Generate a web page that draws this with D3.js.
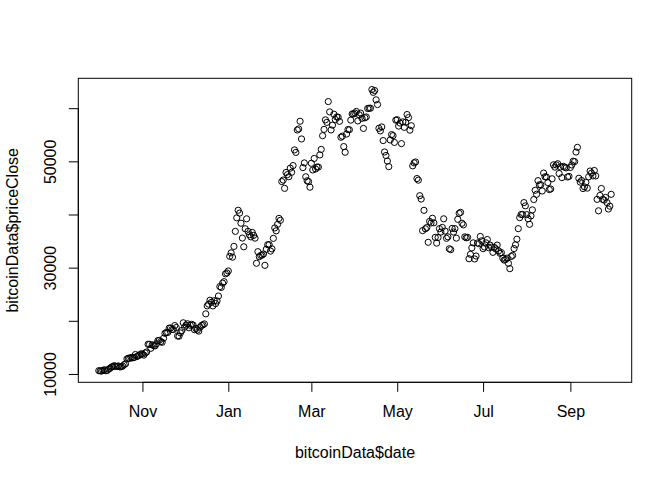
<!DOCTYPE html>
<html>
<head>
<meta charset="utf-8">
<script src="https://cdn.jsdelivr.net/npm/d3@7"></script>
<style>
  body { margin: 0; background: #fff; }
  svg { display: block; font-family: "Liberation Sans", Arial, sans-serif; }
</style>
</head>
<body>
<svg id="chart"></svg>
<script>
// daily closing price, 1 Oct 2020 .. 30 Sep 2021
const startDate = new Date(2020, 9, 1);

const oct20 = [10619, 10575, 10549, 10669, 10793, 10604, 10669, 10915, 11065, 11296, 11384, 11555, 11426, 11430, 11505, 11323, 11358, 11484, 11742, 11916, 12823, 12965, 12931, 13108, 13031, 13075, 13654, 13271, 13437, 13546, 13781];
const nov20 = [13737, 13550, 13950, 14133, 15579, 15565, 14833, 15479, 15332, 15290, 15701, 16276, 16318, 16068, 15955, 16716, 17645, 17804, 17817, 18621, 18642, 18370, 18364, 19107, 18732, 17150, 17108, 17718, 18177, 19625];
const dec20 = [18802, 19201, 19445, 18699, 19154, 19345, 19191, 18321, 18553, 18264, 18058, 18803, 19142, 19246, 19417, 21310, 22805, 23137, 23869, 23477, 22803, 23783, 23241, 23735, 24665, 26437, 26272, 27084, 27362, 28841, 29001];
const jan21 = [29374, 32127, 32782, 31971, 33992, 36824, 39371, 40797, 40254, 38356, 35566, 33922, 37316, 39187, 36825, 36178, 35791, 36630, 36069, 35547, 30825, 33005, 32067, 32289, 32366, 32569, 30432, 33466, 34316, 34318, 33114];
const feb21 = [33538, 35510, 37473, 36926, 38144, 39266, 38903, 46196, 46481, 44918, 47909, 47504, 47105, 48717, 47945, 49199, 52149, 51679, 55888, 56099, 57539, 54207, 48824, 49705, 47093, 46339, 46188, 45137];
const mar21 = [49631, 48378, 50538, 48561, 48927, 48912, 51206, 52246, 54824, 56008, 57805, 57332, 61243, 59302, 55907, 56804, 58870, 57858, 58346, 58313, 57523, 54529, 54738, 52775, 51705, 55137, 55974, 55948, 57750, 58918, 58918];
const apr21 = [59095, 59384, 57603, 58758, 59057, 58093, 56191, 58186, 58346, 59938, 59994, 59995, 63503, 62978, 63314, 61572, 60684, 56216, 55724, 56474, 53906, 51762, 51093, 50050, 49004, 54021, 55034, 54824, 53555, 57750];
const may21 = [57828, 56631, 57200, 53333, 57424, 56396, 57356, 58803, 58232, 55860, 56704, 49150, 49716, 49880, 46760, 46457, 43538, 42909, 36964, 40784, 37304, 37536, 34770, 38705, 38402, 39294, 38436, 35697, 34616, 35678, 37333];
const jun21 = [36693, 37568, 39188, 36885, 35520, 35796, 33552, 33380, 37389, 36702, 37335, 35553, 39097, 40218, 40406, 38348, 38053, 35787, 35615, 35698, 31676, 32505, 33723, 34663, 31637, 32186, 34650, 34496, 35868, 35041];
const jul21 = [33572, 33897, 34668, 35287, 33747, 34235, 33855, 32877, 33798, 33520, 34240, 33155, 32702, 32822, 31780, 31421, 31533, 31797, 30817, 29807, 32110, 32313, 33581, 34292, 35350, 37337, 39406, 39995, 40008, 42235, 41626];
const aug21 = [39974, 39201, 38152, 39747, 40869, 42816, 44555, 43798, 46365, 45585, 45593, 44428, 47793, 47096, 47047, 46004, 44695, 44802, 46717, 49339, 48906, 49321, 49546, 47706, 48960, 46942, 49058, 48897, 48767, 47054, 47167];
const sep21 = [48847, 49327, 50025, 49944, 51753, 52633, 46811, 46091, 46391, 44883, 45201, 46063, 44963, 47092, 48176, 47783, 47267, 48278, 47260, 42844, 40693, 43574, 44895, 42840, 42716, 43208, 42235, 41034, 41564, 43790];

const yTicks = [10000, 20000, 30000, 40000, 50000, 60000];
const yTickLabels = ["10000", "", "30000", "", "50000", ""];
const xTicks = [new Date(2020, 10, 1), new Date(2021, 0, 1), new Date(2021, 2, 1),
                new Date(2021, 4, 1), new Date(2021, 6, 1), new Date(2021, 8, 1)];
const xTickLabels = ["Nov", "Jan", "Mar", "May", "Jul", "Sep"];

const priceClose = [].concat(oct20, nov20, dec20, jan21, feb21, mar21, apr21, may21, jun21, jul21, aug21, sep21);
const data = priceClose.map((p, i) => ({ date: d3.timeDay.offset(startDate, i), price: p }));

const width = 672, height = 480;
const plotL = 78.3, plotR = 631.7, plotT = 78.3, plotB = 382.3;
const fontSize = '16px';

const svg = d3.select('#chart')
  .attr('width', width)
  .attr('height', height);

// R pads the data range by 4% on each side
const xExt = d3.extent(data, d => d.date);
const xPad = (xExt[1] - xExt[0]) * 0.04;
const x = d3.scaleTime()
  .domain([new Date(+xExt[0] - xPad), new Date(+xExt[1] + xPad)])
  .range([plotL, plotR]);

const yExt = d3.extent(data, d => d.price);
const yPad = (yExt[1] - yExt[0]) * 0.04;
const y = d3.scaleLinear()
  .domain([yExt[0] - yPad, yExt[1] + yPad])
  .range([plotB, plotT]);

// points
svg.append('g')
  .selectAll('circle')
  .data(data)
  .enter()
  .append('circle')
  .attr('cx', d => x(d.date))
  .attr('cy', d => y(d.price))
  .attr('r', 3.1)
  .attr('fill', 'none')
  .attr('stroke', '#000')
  .attr('stroke-width', 1);

// box
svg.append('rect')
  .attr('x', plotL)
  .attr('y', plotT)
  .attr('width', plotR - plotL)
  .attr('height', plotB - plotT)
  .attr('fill', 'none')
  .attr('stroke', '#000')
  .attr('stroke-width', 1);

// x axis
const xAxis = d3.axisBottom(x)
  .tickValues(xTicks)
  .tickFormat((d, i) => xTickLabels[i])
  .tickSize(9.5);

const gx = svg.append('g')
  .attr('transform', `translate(0,${plotB})`)
  .call(xAxis);
gx.select('.domain')
  .attr('d', `M${x(xTicks[0])},0H${x(xTicks[xTicks.length - 1])}`);
gx.selectAll('.tick text')
  .attr('y', 34.7)
  .attr('dy', null);

// y axis
const yAxis = d3.axisLeft(y)
  .tickValues(yTicks)
  .tickFormat((d, i) => yTickLabels[i])
  .tickSize(9.5);

const gy = svg.append('g')
  .attr('transform', `translate(${plotL},0)`)
  .call(yAxis);
gy.select('.domain')
  .attr('d', `M0,${y(yTicks[0])}V${y(yTicks[yTicks.length - 1])}`);

[gx, gy].forEach(g => {
  g.selectAll('path, line').attr('stroke', '#000').attr('stroke-width', 1);
  g.selectAll('text')
    .attr('fill', '#000')
    .attr('font-size', fontSize)
    .attr('font-family', '"Liberation Sans", Arial, sans-serif');
});

gy.selectAll('.tick text')
  .attr('x', null)
  .attr('dy', null)
  .attr('text-anchor', 'middle')
  .attr('transform', `translate(${56 - plotL},0) rotate(-90)`);

// axis titles
svg.append('text')
  .attr('x', (plotL + plotR) / 2)
  .attr('y', 458)
  .attr('text-anchor', 'middle')
  .attr('font-size', fontSize)
  .text('bitcoinData$date');

svg.append('text')
  .attr('transform', `translate(17.5,${(plotT + plotB) / 2}) rotate(-90)`)
  .attr('text-anchor', 'middle')
  .attr('font-size', fontSize)
  .text('bitcoinData$priceClose');
</script>
</body>
</html>
